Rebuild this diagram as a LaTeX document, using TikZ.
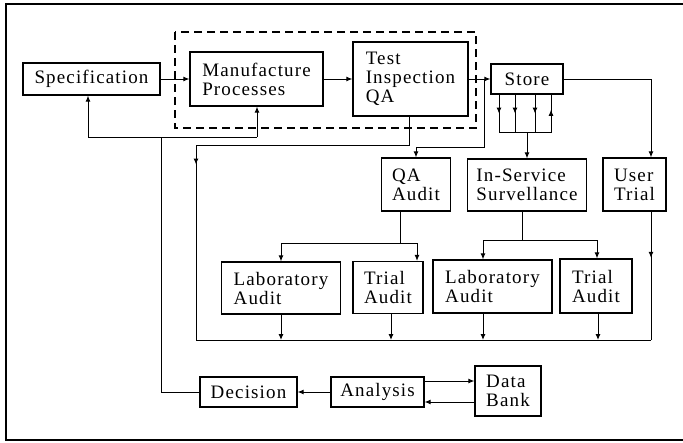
\documentclass[tikz,border=0pt]{standalone}
\usepackage{fontspec}
\setmainfont{Liberation Serif}[LetterSpace=6]
\usetikzlibrary{arrows.meta,decorations.markings,calc}
\begin{document}
\begin{tikzpicture}[x=1pt,y=-1pt,
  box/.style={draw, line width=1.2pt, align=left, inner sep=0pt, font=\fontsize{19}{19}\selectfont},
  conn/.style={line width=1pt},
  arr/.style={conn, -{Latex[length=6pt,width=5pt]}},
  midarr/.style={conn, postaction={decorate}, decoration={markings, mark=at position #1 with {\arrow{Latex[length=6pt,width=5pt]}}}},
  frame/.style={line width=1.8pt},
  dashbox/.style={line width=1.1pt, dash pattern=on 8pt off 5pt}]
\useasboundingbox (0,0) rectangle (683,442);
\draw[frame] (683,4) -- (6,4) -- (6,440) -- (683,440);
\draw[dashbox] (175,32) rectangle (476,128);

\node[box, minimum width=137pt, minimum height=32pt] (spec) at (91.5,79) {Specification};
\node[box, minimum width=133pt, minimum height=54pt] (manu) at (256.5,79) {Manufacture\\Processes};
\node[box, minimum width=115pt, minimum height=74pt] (test) at (410.5,79) {Test\\Inspection\\QA};
\node[box, minimum width=72pt, minimum height=30pt] (store) at (527,79) {Store};
\node[box, minimum width=69pt, minimum height=53pt] (qa) at (416,184.5) {QA\\Audit};
\node[box, minimum width=119pt, minimum height=52pt] (insvc) at (527,185) {In-Service\\Survellance};
\node[box, minimum width=63pt, minimum height=53pt] (user) at (634.5,184.5) {User\\Trial};
\node[box, minimum width=119pt, minimum height=52pt] (lab1) at (281,288) {Laboratory\\Audit};
\node[box, minimum width=70pt, minimum height=52pt] (trial1) at (388,287.5) {Trial\\Audit};
\node[box, minimum width=119pt, minimum height=53pt] (lab2) at (492.5,286.5) {Laboratory\\Audit};
\node[box, minimum width=72pt, minimum height=54pt] (trial2) at (596,286) {Trial\\Audit};
\node[box, minimum width=97pt, minimum height=30pt] (decision) at (248.5,392) {Decision};
\node[box, minimum width=93pt, minimum height=30pt] (analysis) at (377.5,392) {Analysis};
\node[box, minimum width=66pt, minimum height=50pt] (databank) at (508,391) {Data\\Bank};

% main chain
\draw[arr] (spec) -- (manu);
\draw[arr] (manu) -- (test);
\draw[arr] (test) -- (store);
\coordinate (j1) at (484,79);
\coordinate (qaT) at ($(qa.north)+(0,-10)$);
\draw[arr] (j1) |- (qaT) -- (qa.north);
\coordinate (uT) at ($(user.north)+(16.5,0)$);
\draw[arr] (store.east) -| (uT);

% store outlets
\foreach \dx in {-28,-12,8}
  \draw[midarr=0.5] ($(store.south)+(\dx,0)$) -- ($(store.south)+(\dx,38)$);
\draw[midarr=0.6] ($(store.south)+(24,38)$) -- ($(store.south)+(24,0)$);
\coordinate (sb) at ($(store.south)+(0,38)$);
\draw[conn] ($(store.south)+(-28,38)$) -- ($(store.south)+(24,38)$);
\draw[arr] (sb) -- (insvc.north);

% test to bottom bar
\coordinate (tl) at (196,145);
\coordinate (bl) at (196,340);
\coordinate (br) at (651,340);
\draw[conn] ($(test.south)+(-1,0)$) |- (tl);
\draw[midarr=0.1] (tl) -- (bl);
\draw[conn] (bl) -- (br);
\draw[midarr=0.36] (user.south -| br) -- (br);

% QA audit split
\coordinate (qs) at (400,243);
\coordinate (qL) at (281,243);
\coordinate (qR) at (417,243);
\draw[conn] (qa.south -| qs) -- (qs);
\draw[conn] (qL) -- (qR);
\draw[arr] (qL) -- (lab1.north);
\draw[arr] (qR) -- (qR |- trial1.north);

% in-service split
\coordinate (is) at (522,240);
\coordinate (iL) at (483,240);
\coordinate (iR) at (597,240);
\draw[conn] (insvc.south -| is) -- (is);
\draw[conn] (iL) -- (iR);
\draw[arr] (iL) -- (iL |- lab2.north);
\draw[arr] (iR) -- (iR |- trial2.north);

% audits to bottom bar
\coordinate (b1) at (281,340);
\coordinate (b2) at (391,340);
\coordinate (b3) at (483,340);
\coordinate (b4) at (598,340);
\draw[arr] (lab1.south) -- (b1);
\draw[arr] (trial1.south -| b2) -- (b2);
\draw[arr] (lab2.south -| b3) -- (b3);
\draw[arr] (trial2.south -| b4) -- (b4);

% decision feedback
\coordinate (fb) at (161,137);
\coordinate (fL) at (88,137);
\coordinate (fR) at (257,137);
\draw[conn] (decision.west) -| (fb);
\draw[conn] (fL) -- (fR);
\draw[arr] (fL) -- (fL |- spec.south);
\draw[arr] (fR) -- (fR |- manu.south);

% analysis, data bank
\draw[arr] (analysis) -- (decision);
\coordinate (a1) at ($(analysis.east)+(0,-11)$);
\coordinate (d1) at ($(databank.west)+(0,11)$);
\draw[arr] (a1) -- (a1 -| databank.west);
\draw[arr] (d1) -- (d1 -| analysis.east);
\end{tikzpicture}
\end{document}
